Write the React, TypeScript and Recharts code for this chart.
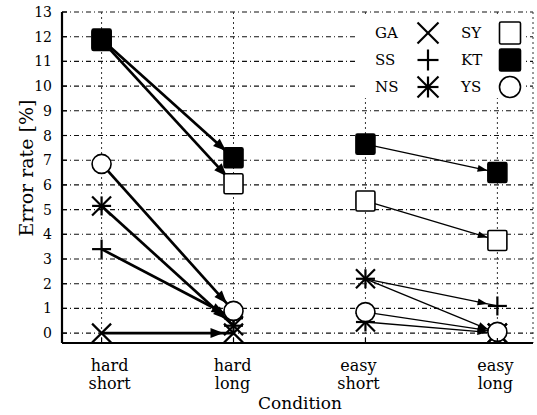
import { LineChart, Line, XAxis, YAxis, CartesianGrid } from "recharts";

// error rate [%] per condition: hard short, hard long, easy short, easy long
const conditionWords = [
  ["hard", "short"],
  ["hard", "long"],
  ["easy", "short"],
  ["easy", "long"],
];
const yTicks = [0, 1, 2, 3, 4, 5, 6, 7, 8, 9, 10, 11, 12, 13];

const gaRate = [0, 0, 2.2, 0];
const ssRate = [3.4, 0.6, 2.2, 1.1];
const nsRate = [5.15, 0.3, 0.45, 0];
const syRate = [11.85, 6.05, 5.35, 3.75];
const ktRate = [11.9, 7.1, 7.65, 6.5];
const ysRate = [6.85, 0.9, 0.85, 0.05];

type Kind = "cross" | "plus" | "star" | "box" | "filledBox" | "circle";

const series: { name: string; rates: number[]; kind: Kind }[] = [
  { name: "GA", rates: gaRate, kind: "cross" },
  { name: "SS", rates: ssRate, kind: "plus" },
  { name: "NS", rates: nsRate, kind: "star" },
  { name: "SY", rates: syRate, kind: "box" },
  { name: "KT", rates: ktRate, kind: "filledBox" },
  { name: "YS", rates: ysRate, kind: "circle" },
];

// each series is drawn as two arrows: hard short -> hard long, easy short -> easy long
const segments = [
  { from: 0, to: 1, width: 2.7, arrow: "arrow-thick" },
  { from: 2, to: 3, width: 1.3, arrow: "arrow-thin" },
];

const SERIF = '"DejaVu Serif", "Liberation Serif", serif';
const labelShift = [8, -1, -7, -2];

function PointSymbol({ kind, cx, cy, s = 9.5 }: { kind: Kind; cx: number; cy: number; s?: number }) {
  const sw = 2.2;
  if (kind === "cross")
    return (
      <g stroke="#000" strokeWidth={sw}>
        <line x1={cx - s} y1={cy - s} x2={cx + s} y2={cy + s} />
        <line x1={cx - s} y1={cy + s} x2={cx + s} y2={cy - s} />
      </g>
    );
  if (kind === "plus")
    return (
      <g stroke="#000" strokeWidth={sw}>
        <line x1={cx - s} y1={cy} x2={cx + s} y2={cy} />
        <line x1={cx} y1={cy - s} x2={cx} y2={cy + s} />
      </g>
    );
  if (kind === "star")
    return (
      <g stroke="#000" strokeWidth={sw}>
        <line x1={cx - s} y1={cy} x2={cx + s} y2={cy} />
        <line x1={cx} y1={cy - s} x2={cx} y2={cy + s} />
        <line x1={cx - s} y1={cy - s} x2={cx + s} y2={cy + s} />
        <line x1={cx - s} y1={cy + s} x2={cx + s} y2={cy - s} />
      </g>
    );
  if (kind === "circle")
    return <circle cx={cx} cy={cy} r={s} fill="#fff" stroke="#000" strokeWidth={1.6} />;
  return (
    <rect
      x={cx - s}
      y={cy - s - 0.5}
      width={2 * s}
      height={2 * s + 1}
      rx={1.5}
      fill={kind === "filledBox" ? "#000" : "#fff"}
      stroke="#000"
      strokeWidth={1.6}
    />
  );
}

function BottomTick(props: any) {
  const { x, y, payload } = props;
  const i = Math.round(payload.value);
  const words = conditionWords[i] || [];
  const tx = x + (labelShift[i] || 0);
  return (
    <g>
      <line x1={x} y1={y} x2={x} y2={y - 5} stroke="#000" strokeWidth={1.2} />
      <text x={tx} y={y + 28} textAnchor="middle" fontFamily={SERIF} fontSize={16} fill="#000">
        {words[0]}
      </text>
      <text x={tx} y={y + 46} textAnchor="middle" fontFamily={SERIF} fontSize={16} fill="#000">
        {words[1]}
      </text>
    </g>
  );
}

function TopTick(props: any) {
  const { x, y } = props;
  return <line x1={x} y1={y} x2={x} y2={y + 5} stroke="#000" strokeWidth={1.2} />;
}

function LeftTick(props: any) {
  const { x, y, payload } = props;
  return (
    <g>
      <line x1={x} y1={y} x2={x + 5} y2={y} stroke="#000" strokeWidth={1.2} />
      <text x={x - 10} y={y} dy="0.36em" textAnchor="end" fontFamily={SERIF} fontSize={14} fill="#000">
        {payload.value}
      </text>
    </g>
  );
}

function RightTick(props: any) {
  const { x, y } = props;
  return <line x1={x} y1={y} x2={x - 5} y2={y} stroke="#000" strokeWidth={1.2} />;
}

const legendRows = [33, 60, 87];

function Overlay() {
  return (
    <svg
      width={537}
      height={415}
      style={{ position: "absolute", left: 0, top: 0, pointerEvents: "none" }}
    >
      <defs>
        <marker
          id="arrow-thick"
          markerUnits="userSpaceOnUse"
          markerWidth={40}
          markerHeight={12}
          refX={23}
          refY={5}
          orient="auto"
          overflow="visible"
        >
          <path d="M0,0 L13,5 L0,10 Z" fill="#000" />
        </marker>
        <marker
          id="arrow-thin"
          markerUnits="userSpaceOnUse"
          markerWidth={40}
          markerHeight={10}
          refX={20}
          refY={3.5}
          orient="auto"
          overflow="visible"
        >
          <path d="M0,0 L10,3.5 L0,7 Z" fill="#000" />
        </marker>
      </defs>

      <rect x={355} y={14} width={171} height={84} fill="#fff" />
      {series.map((s, i) => {
        const col = Math.floor(i / 3);
        const cy = legendRows[i % 3];
        const textX = col === 0 ? 375 : 461;
        const symX = col === 0 ? 428 : 510;
        return (
          <g key={s.name}>
            <text x={textX} y={cy} dy="0.36em" fontFamily={SERIF} fontSize={15} fill="#000">
              {s.name}
            </text>
            <PointSymbol kind={s.kind} cx={symX} cy={cy} s={10.5} />
          </g>
        );
      })}

      <text
        transform="translate(33,168) rotate(-90)"
        textAnchor="middle"
        fontFamily={SERIF}
        fontSize={19}
        fill="#000"
      >
        Error rate [%]
      </text>
      <text x={300} y={409} textAnchor="middle" fontFamily={SERIF} fontSize={17} fill="#000">
        Condition
      </text>
    </svg>
  );
}

export default function App() {
  return (
    <div style={{ position: "absolute", left: 0, top: 0, width: 537, height: 415, background: "#fff" }}>
      <LineChart width={537} height={415} margin={{ top: 12, right: 4, bottom: 0, left: 0 }}>
        <CartesianGrid vertical={false} stroke="#111" strokeWidth={1.1} strokeDasharray="5 3 1 3" />
        <CartesianGrid horizontal={false} stroke="#333" strokeWidth={1} strokeDasharray="2 3" />
        <XAxis
          type="number"
          dataKey="x"
          domain={[-0.3, 3.27]}
          ticks={[0, 1, 2, 3]}
          interval={0}
          allowDataOverflow
          height={72}
          axisLine={{ stroke: "#000", strokeWidth: 2.2 }}
          tickLine={false}
          tickSize={0}
          tickMargin={0}
          tick={BottomTick}
        />
        <XAxis
          xAxisId="top"
          orientation="top"
          type="number"
          domain={[-0.3, 3.27]}
          ticks={[0, 1, 2, 3]}
          interval={0}
          allowDataOverflow
          height={0}
          axisLine={{ stroke: "#000", strokeWidth: 2.2 }}
          tickLine={false}
          tickSize={0}
          tickMargin={0}
          tick={TopTick}
        />
        <YAxis
          type="number"
          domain={[-0.4, 13]}
          ticks={yTicks}
          interval={0}
          allowDataOverflow
          width={62}
          axisLine={{ stroke: "#000", strokeWidth: 2.2 }}
          tickLine={false}
          tickSize={0}
          tickMargin={0}
          tick={LeftTick}
        />
        <YAxis
          yAxisId="right"
          orientation="right"
          type="number"
          domain={[-0.4, 13]}
          ticks={yTicks}
          interval={0}
          allowDataOverflow
          width={0}
          axisLine={{ stroke: "#000", strokeWidth: 2.2 }}
          tickLine={false}
          tickSize={0}
          tickMargin={0}
          tick={RightTick}
        />
        {segments.map((seg) =>
          series.map((s) => (
            <Line
              key={`${s.name}-${seg.from}`}
              data={[
                { x: seg.from, y: s.rates[seg.from] },
                { x: seg.to, y: s.rates[seg.to] },
              ]}
              dataKey="y"
              type="linear"
              stroke="#000"
              strokeWidth={seg.width}
              markerEnd={`url(#${seg.arrow})`}
              isAnimationActive={false}
              activeDot={false}
              dot={(p: any) => <PointSymbol key={`${s.name}-${seg.from}-${p.index}`} kind={s.kind} cx={p.cx} cy={p.cy} />}
            />
          ))
        )}
      </LineChart>
      <Overlay />
    </div>
  );
}
